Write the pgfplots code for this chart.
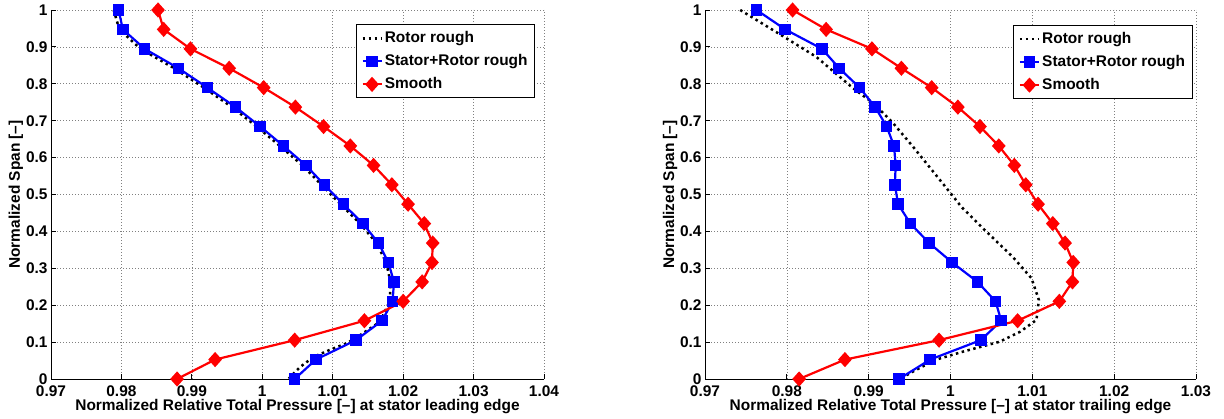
\documentclass[border=0pt]{standalone}
\usepackage{pgfplots}
\pgfplotsset{compat=1.18}
\usepackage{fontspec}
\setmainfont{Liberation Sans}

\newcommand{\plotfont}{\bfseries\fontsize{15.5}{18}\selectfont}

\pgfplotsset{
  profile/.style={
    scale only axis, height=369bp,
    anchor=south west,
    xmin=0.97, ymin=0, ymax=1,
    axis x line*=bottom, axis y line*=left,
    axis line style={line width=0.8bp, black},
    tick align=inside, major tick length=5bp,
    tick style={black, line width=0.8bp},
    grid=major,
    major grid style={black!50, line width=0.6bp, dash pattern=on 1bp off 2bp},
    ytick={0,0.1,0.2,0.3,0.4,0.5,0.6,0.7,0.8,0.9,1},
    /pgf/number format/assume math mode=true,
    tick label style={font=\plotfont},
    xticklabel style={anchor=base, yshift=-17.7bp},
    label style={font=\plotfont},
    xlabel style={at={(axis description cs:0.5,0)}, anchor=base, yshift=-31bp},
    ylabel style={at={(axis description cs:0,0.5)}, anchor=center, rotate=0, yshift=35bp},
    ylabel={Normalized Span [–]},
    legend cell align=left,
    legend image code/.code={\draw[mark repeat=2, mark phase=2, #1] plot coordinates {(0bp,0bp) (9.5bp,0bp) (19bp,0bp)};},
    legend style={anchor=north east, draw=black, line width=1bp, font=\plotfont,
      inner xsep=5bp, inner ysep=4bp, row sep=4bp,
      nodes={inner sep=2bp, text height=11.5bp, text depth=3.5bp}},
  },
  rotor/.style={black, line width=2.5bp, dash pattern=on 2.5bp off 3.5bp, no markers},
  stator/.style={blue, line width=2.2bp, mark=square*, mark size=5bp, mark options={solid, fill=blue, line width=1.5bp}},
  smooth/.style={red, line width=2.2bp, mark=diamond*, mark size=6.5bp, mark options={solid, fill=red, line width=1.5bp, xscale=1.2}},
}

\begin{document}
\begin{tikzpicture}
\path[use as bounding box] (0,0) rectangle (1224bp,419bp);

% stator leading edge
\begin{axis}[profile, at={(51bp,40bp)}, width=493bp,
  xmax=1.04, xtick={0.97,0.98,0.99,1,1.01,1.02,1.03,1.04},
  xlabel={Normalized Relative Total Pressure [–] at stator leading edge},
  legend style={at={(0.982,0.961)}}]
\addplot[rotor] coordinates {
  (0.9789,1) (0.9797,0.9474) (0.9827,0.8947) (0.9875,0.8421) (0.9917,0.7895)
  (0.9957,0.7368) (0.9992,0.6842) (1.0025,0.6316) (1.0057,0.5789) (1.0084,0.5263)
  (1.0111,0.4737) (1.0139,0.4211) (1.0162,0.3684) (1.0176,0.3158) (1.0182,0.2632)
  (1.0181,0.2105) (1.0167,0.155) (1.0139,0.119) (1.0120,0.097) (1.0096,0.079)
  (1.0073,0.060) (1.0054,0.033) (1.0037,0)};
\addplot[stator] coordinates {
  (0.9796,1) (0.9802,0.9474) (0.9833,0.8947) (0.9881,0.8421) (0.9922,0.7895)
  (0.9962,0.7368) (0.9997,0.6842) (1.0030,0.6316) (1.0062,0.5789) (1.0088,0.5263)
  (1.0115,0.4737) (1.0143,0.4211) (1.0165,0.3684) (1.0179,0.3158) (1.0187,0.2632)
  (1.0185,0.2105) (1.0170,0.1579) (1.0133,0.1053) (1.0076,0.0526) (1.0046,0)};
\addplot[smooth] coordinates {
  (0.9852,1) (0.9860,0.9474) (0.9898,0.8947) (0.9953,0.8421) (1.0002,0.7895)
  (1.0047,0.7368) (1.0087,0.6842) (1.0125,0.6316) (1.0158,0.5789) (1.0184,0.5263)
  (1.0207,0.4737) (1.0230,0.4211) (1.0242,0.3684) (1.0241,0.3158) (1.0227,0.2632)
  (1.0200,0.2105) (1.0145,0.1579) (1.0046,0.1053) (0.9933,0.0526) (0.9879,0)};
\legend{Rotor rough, Stator+Rotor rough, Smooth}
\end{axis}

% stator trailing edge
\begin{axis}[profile, at={(705bp,40bp)}, width=491bp,
  xmax=1.03, xtick={0.97,0.98,0.99,1,1.01,1.02,1.03},
  xlabel={Normalized Relative Total Pressure [–] at stator trailing edge},
  legend style={at={(0.993,0.959)}}]
\addplot[rotor] coordinates {
  (0.9743,1) (0.9796,0.928) (0.9836,0.873) (0.9881,0.788) (0.9906,0.747)
  (0.9930,0.693) (0.9954,0.630) (0.9981,0.556) (1.0005,0.490) (1.0013,0.467)
  (1.0044,0.399) (1.0076,0.331) (1.0099,0.273) (1.0108,0.214) (1.0105,0.160)
  (1.0085,0.128) (1.0060,0.101) (1.0015,0.074) (0.9981,0.0515) (0.9954,0.020)
  (0.9938,0)};
\addplot[stator] coordinates {
  (0.9763,1) (0.9798,0.9474) (0.9843,0.8947) (0.9864,0.8421) (0.9889,0.7895)
  (0.9908,0.7368) (0.9922,0.6842) (0.9931,0.6316) (0.9933,0.5789) (0.9932,0.5263)
  (0.9936,0.4737) (0.9951,0.4211) (0.9974,0.3684) (1.0002,0.3158) (1.0033,0.2632)
  (1.0055,0.2105) (1.0062,0.1579) (1.0037,0.1053) (0.9975,0.0526) (0.9937,0)};
\addplot[smooth] coordinates {
  (0.9807,1) (0.9848,0.9474) (0.9904,0.8947) (0.9940,0.8421) (0.9977,0.7895)
  (1.0009,0.7368) (1.0036,0.6842) (1.0059,0.6316) (1.0078,0.5789) (1.0092,0.5263)
  (1.0107,0.4737) (1.0125,0.4211) (1.0140,0.3684) (1.0150,0.3158) (1.0149,0.2632)
  (1.0133,0.2105) (1.0082,0.1579) (0.9986,0.1053) (0.9871,0.0526) (0.9815,0)};
\legend{Rotor rough, Stator+Rotor rough, Smooth}
\end{axis}
\end{tikzpicture}
\end{document}
